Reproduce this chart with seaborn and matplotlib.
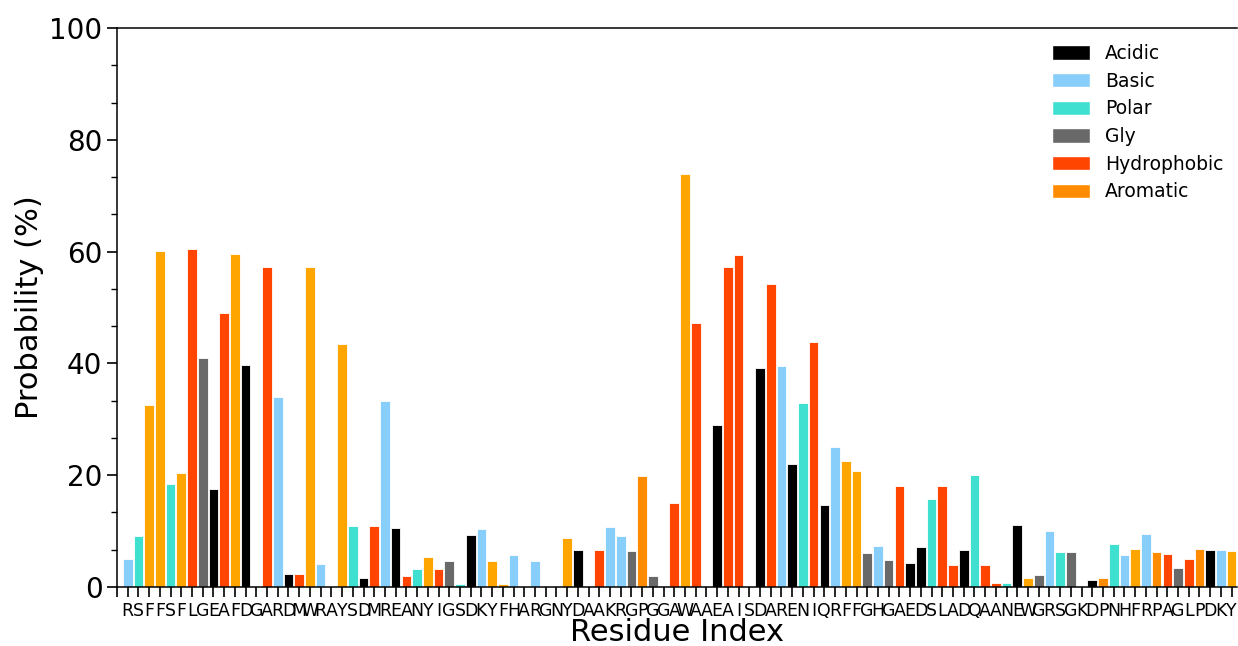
import matplotlib
matplotlib.use('Agg')
import matplotlib.pyplot as plt
from matplotlib.patches import Patch
from matplotlib.ticker import AutoMinorLocator
import pandas as pd
import seaborn as sns

# residue sequence shown under the bars
residues = list("RSFFSFLGEAFDGARDMWRAYSDMREANYIGSDKYFHARGNYDAAKRGPGG"
                "AWAAEAISDARENIQRFFGHGAEDSLADQAANEWGRSGKDPNHFRPAGLPDKY")

# probability (%) per residue
probability = [
    5.0, 9.1, 32.6, 60.1, 18.4, 20.4, 60.5, 41.0, 17.5, 49.0,
    59.6, 39.7, 0.0, 57.2, 34.0, 2.4, 2.4, 57.2, 4.2, 0.0,
    43.5, 10.9, 1.6, 10.9, 33.2, 10.5, 2.0, 3.2, 5.4, 3.2,
    4.6, 0.5, 9.3, 10.3, 4.7, 0.5, 5.7, 0.0, 4.7, 0.0,
    0.0, 8.7, 6.6, 0.0, 6.6, 10.7, 9.1, 6.4, 19.9, 1.9,
    0.0, 15.0, 73.8, 47.3, 0.0, 28.9, 57.2, 59.4, 0.0, 39.2,
    54.2, 39.5, 22.0, 33.0, 43.8, 14.7, 25.0, 22.6, 20.7, 6.1,
    7.4, 4.8, 18.0, 4.3, 7.1, 15.8, 18.0, 3.9, 6.6, 20.0,
    4.0, 0.8, 0.8, 11.1, 1.6, 2.2, 10.0, 6.2, 6.3, 0.0,
    1.3, 1.6, 7.7, 5.8, 6.8, 9.5, 6.3, 5.9, 3.4, 5.0,
    6.8, 6.6, 6.6, 6.5,
]

# class of each bar (A=acidic, B=basic, O=polar, G=gly, H=hydrophobic, R=aromatic, P=pro)
bar_class = list("BORRORHGAHRAGHBAHRBHROAHBAHORHGOABRRBHBGORAHHBBGPGG"
                 "HRHHAHHOAHBAOHABRRGBGHAAOHHAOHHOARGBOGBAPOBRBPHGHPABR")

class_colors = {
    'A': 'black', 'B': 'lightskyblue', 'O': 'turquoise', 'G': 'dimgray',
    'H': 'orangered', 'R': 'orange', 'P': 'darkorange',
}

legend_names = ['Acidic', 'Basic', 'Polar', 'Gly', 'Hydrophobic', 'Aromatic']
legend_colors = ['black', 'lightskyblue', 'turquoise', 'dimgray', 'orangered', 'darkorange']

df = pd.DataFrame({
    'pos': range(len(residues)),
    'key': [str(i) for i in range(len(residues))],
    'prob': probability,
})
palette = {k: class_colors[c] for k, c in zip(df['key'], bar_class)}

fig = plt.figure(figsize=(12.38, 6.46), dpi=100)
ax = fig.add_axes([117 / 1238, 59 / 646, 1120 / 1238, 559 / 646])

sns.barplot(data=df, x='pos', y='prob', hue='key', palette=palette, dodge=False,
            saturation=1, legend=False, width=0.9, edgecolor='white',
            linewidth=0.6, ax=ax)

ax.set_xlim(-1, len(residues) - 0.5)
ax.set_ylim(0, 100)
ax.set_xticks(range(-1, len(residues)))
ax.set_xticklabels([''] + residues, fontsize=12.5)
ax.set_yticks([0, 20, 40, 60, 80, 100])
ax.yaxis.set_minor_locator(AutoMinorLocator(3))
ax.tick_params(axis='y', labelsize=20)
ax.tick_params(which='major', length=7, width=1.2)
ax.tick_params(which='minor', length=4, width=1.0)
for s in ax.spines.values():
    s.set_linewidth(1.1)
ax.spines['right'].set_visible(False)

ax.set_xlabel('Residue Index', fontsize=22, labelpad=-1)
ax.set_ylabel('Probability (%)', fontsize=22)

handles = [Patch(facecolor=c, edgecolor='white', label=n)
           for n, c in zip(legend_names, legend_colors)]
ax.legend(handles=handles, loc='upper right', bbox_to_anchor=(1.001, 0.998),
          frameon=False, fontsize=13.5, handleheight=0.8, labelspacing=0.46,
          borderaxespad=0.4)

fig.savefig('out.png', dpi=100)
